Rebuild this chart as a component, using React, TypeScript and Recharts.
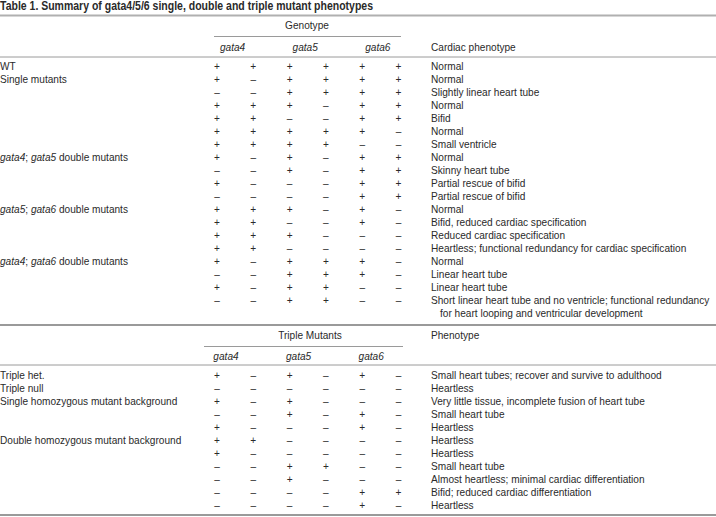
import React from 'react';
import { ScatterChart, Scatter, XAxis, YAxis, ReferenceLine } from 'recharts';

// ---------------- content (data) ----------------
const title = 'Table 1. Summary of gata4/5/6 single, double and triple mutant phenotypes';
const genes = ['gata4', 'gata5', 'gata6'];
const topHeader = 'Genotype';
const topPhenoHeader = 'Cardiac phenotype';
const bottomHeader = 'Triple Mutants';
const bottomPhenoHeader = 'Phenotype';

const topGroups = [
  'WT', 'Single mutants', '', '', '', '', '',
  'gata4; gata5 double mutants', '', '', '',
  'gata5; gata6 double mutants', '', '', '',
  'gata4; gata6 double mutants', '', '', '',
];
const topGenotypes = [
  '++++++', '+-++++', '--++++', '+++-++', '++--++', '+++++-', '++++--',
  '+-+-++', '--+-++', '+---++', '----++',
  '+++-+-', '++--+-', '+++---', '++----',
  '+-+++-', '--+++-', '+-++--', '--++--',
];
const topPhenotypes = [
  'Normal', 'Normal', 'Slightly linear heart tube', 'Normal', 'Bifid', 'Normal', 'Small ventricle',
  'Normal', 'Skinny heart tube', 'Partial rescue of bifid', 'Partial rescue of bifid',
  'Normal', 'Bifid, reduced cardiac specification', 'Reduced cardiac specification',
  'Heartless; functional redundancy for cardiac specification',
  'Normal', 'Linear heart tube', 'Linear heart tube',
  'Short linear heart tube and no ventricle; functional redundancy\nfor heart looping and ventricular development',
];

const bottomGroups = [
  'Triple het.', 'Triple null', 'Single homozygous mutant background', '', '',
  'Double homozygous mutant background', '', '', '', '', '',
];
const bottomGenotypes = [
  '+-+-+-', '------', '+-+---', '--+-+-', '+---+-',
  '++----', '+-----', '--++--', '--+---', '----++', '----+-',
];
const bottomPhenotypes = [
  'Small heart tubes; recover and survive to adulthood', 'Heartless',
  'Very little tissue, incomplete fusion of heart tube', 'Small heart tube', 'Heartless',
  'Heartless', 'Heartless', 'Small heart tube',
  'Almost heartless; minimal cardiac differentiation',
  'Bifid; reduced cardiac differentiation', 'Heartless',
];

// ---------------- layout ----------------
const W = 716;
const H = 517;
const COL0 = 217; // pixel of first genotype column
const COL_W = 36.3; // genotype column pitch
const ROW0 = 66; // pixel of first body line
const ROW_H = 13; // line pitch
const px2x = (p: number) => (p - COL0) / COL_W;
const py2y = (p: number) => (p - ROW0) / ROW_H;
const BOTTOM_START = py2y(375);
const LABEL_X = px2x(0);
const PHENO_X = px2x(431);
const FONT = "'Liberation Sans', Arial, Helvetica, sans-serif";
const FS = 10.1;
const INK = '#2a2a2a';
const RULE = '#9a9a9a';

type Cell = {
  x: number;
  y: number;
  text: string;
  anchor: 'start' | 'middle' | 'end';
  italic?: boolean;
  rich?: boolean;
  bold?: boolean;
  size?: number;
  fit?: number;
};

const symbol = (c: string) => (c === '+' ? '+' : '\u2013');

function bodyCells(groups: string[], genos: string[], phenos: string[], start: number): Cell[] {
  const out: Cell[] = [];
  genos.forEach((g, r) => {
    const y = start + r;
    if (groups[r]) out.push({ x: LABEL_X, y, text: groups[r], anchor: 'start', rich: true });
    g.split('').forEach((c, ci) => out.push({ x: ci, y, text: symbol(c), anchor: 'middle' }));
    out.push({ x: PHENO_X, y, text: phenos[r], anchor: 'start' });
  });
  return out;
}

const bodyData: Cell[] = [
  ...bodyCells(topGroups, topGenotypes, topPhenotypes, 0),
  ...bodyCells(bottomGroups, bottomGenotypes, bottomPhenotypes, BOTTOM_START),
];

const headerData: Cell[] = [
  { x: LABEL_X, y: py2y(6), text: title, anchor: 'start', bold: true, size: 12, fit: 373 },
  { x: px2x(307), y: py2y(25), text: topHeader, anchor: 'middle' },
  ...genes.map((g, i) => ({ x: 2 * i + 0.5 - 0.07, y: py2y(47), text: g, anchor: 'middle' as const, italic: true })),
  { x: PHENO_X, y: py2y(47), text: topPhenoHeader, anchor: 'start' },
  { x: px2x(310), y: py2y(335), text: bottomHeader, anchor: 'middle' },
  ...genes.map((g, i) => ({ x: 2 * i - 0.1, y: py2y(356), text: g, anchor: 'start' as const, italic: true })),
  { x: PHENO_X, y: py2y(335), text: bottomPhenoHeader, anchor: 'start' },
];

function renderRich(text: string) {
  const parts = text.split(/(gata\d)/);
  return parts.map((p, i) =>
    /^gata\d$/.test(p) ? (
      <tspan key={i} fontStyle="italic">{p}</tspan>
    ) : (
      <tspan key={i}>{p}</tspan>
    )
  );
}

function TextShape(props: any) {
  const { cx, cy, payload } = props;
  const p = payload as Cell;
  if (cx == null || cy == null) return null;
  const lines = p.text.split('\n');
  return (
    <g>
      {lines.map((ln, i) => (
        <text
          key={i}
          x={cx + (i > 0 ? 9 : 0)}
          y={cy + i * ROW_H}
          dy="0.36em"
          textAnchor={p.anchor}
          fontFamily={FONT}
          fontSize={p.size ?? FS}
          fontWeight={p.bold ? 'bold' : 'normal'}
          fontStyle={p.italic ? 'italic' : 'normal'}
          fill={INK}
          {...(p.fit ? { textLength: p.fit, lengthAdjust: 'spacingAndGlyphs' } : {})}
        >
          {p.rich ? renderRich(ln) : ln}
        </text>
      ))}
    </g>
  );
}

const fullRules = [
  { y: 15.5, w: 2, c: '#b0b0b0' },
  { y: 57, w: 1, c: RULE },
  { y: 325, w: 2, c: RULE },
  { y: 365, w: 1, c: RULE },
  { y: 515, w: 2, c: RULE },
];
const shortRules = [
  { y: 36, x1: 214, x2: 401 },
  { y: 346, x1: 204, x2: 403 },
];

export default function App() {
  return (
    <div style={{ position: 'absolute', left: 0, top: 0, width: W, height: H, background: '#fff' }}>
      <ScatterChart width={W} height={H} margin={{ top: 0, right: 0, bottom: 0, left: 0 }}>
        <XAxis
          hide
          type="number"
          dataKey="x"
          domain={[px2x(0), px2x(W)]}
          allowDataOverflow
        />
        <YAxis
          hide
          type="number"
          dataKey="y"
          reversed
          domain={[py2y(0), py2y(H)]}
          allowDataOverflow
        />
        {fullRules.map((r, i) => (
          <ReferenceLine key={'f' + i} y={py2y(r.y)} stroke={r.c} strokeWidth={r.w} />
        ))}
        {shortRules.map((r, i) => (
          <ReferenceLine
            key={'s' + i}
            segment={[
              { x: px2x(r.x1), y: py2y(r.y + 0.5) },
              { x: px2x(r.x2), y: py2y(r.y + 0.5) },
            ]}
            stroke={RULE}
            strokeWidth={1}
          />
        ))}
        <Scatter data={headerData} shape={TextShape} isAnimationActive={false} />
        <Scatter data={bodyData} shape={TextShape} isAnimationActive={false} />
      </ScatterChart>
    </div>
  );
}
